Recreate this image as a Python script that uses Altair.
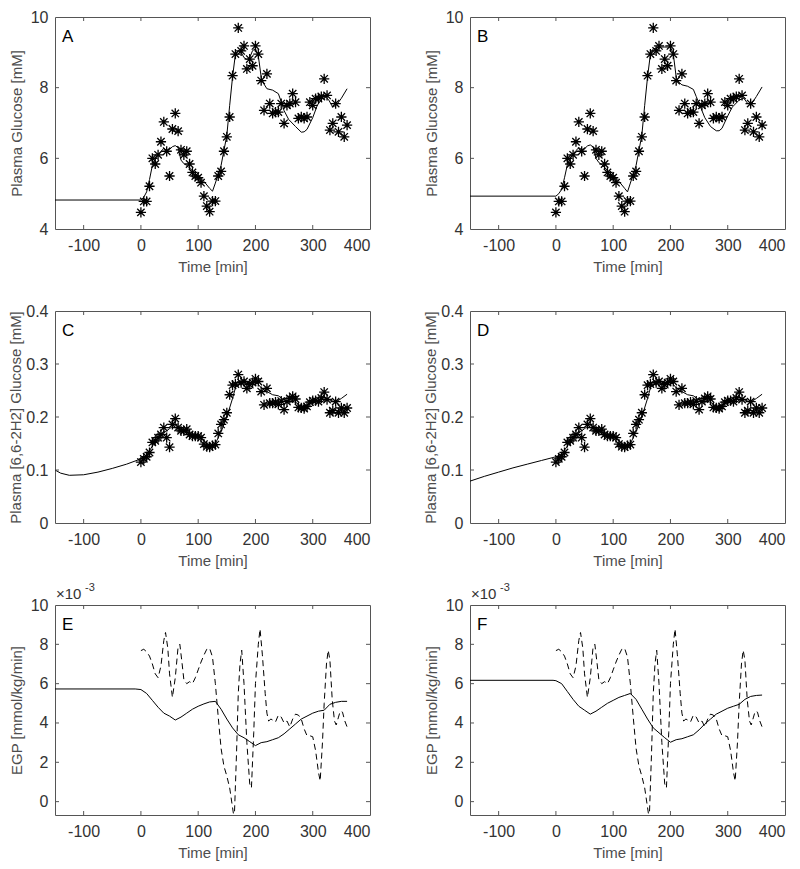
import altair as alt
import pandas as pd

FONT = "Liberation Sans"

# ---------------- data ----------------
X_DOMAIN = [-150, 400]
X_TICKS = [-100, 0, 100, 200, 300, 400]

OBS_T = [0, 5, 10, 15, 20, 25, 30, 35, 40, 45, 50, 55, 60, 65, 70, 75, 80, 85, 90, 95,
         100, 105, 110, 115, 120, 125, 130, 135, 140, 145, 150, 155, 160, 165, 170, 175,
         180, 185, 190, 195, 200, 205, 210, 215, 220, 225, 230, 235, 240, 245, 250, 255,
         260, 265, 270, 275, 280, 285, 290, 295, 300, 305, 310, 315, 320, 325, 330, 335,
         340, 345, 350, 355, 360]

GLU_OBS = [4.47, 4.78, 4.78, 5.21, 6.0, 5.84, 6.1, 6.47, 7.03, 6.2, 5.5, 6.83, 7.27, 6.77,
           6.24, 6.1, 6.2, 5.84, 5.6, 5.5, 5.45, 5.31, 4.93, 4.65, 4.49, 4.79, 4.79, 5.5,
           5.63, 6.2, 6.61, 7.17, 8.34, 8.95, 9.69, 9.04, 9.18, 8.53, 8.81, 8.62, 9.18,
           8.95, 8.2, 7.36, 8.39, 7.55, 7.27, 7.31, 7.31, 7.55, 6.99, 7.5, 7.55, 7.83,
           7.59, 7.13, 7.17, 7.13, 7.17, 7.59, 7.5, 7.69, 7.69, 7.75, 8.25, 7.78, 6.8,
           6.99, 7.55, 6.75, 7.17, 6.61, 6.94]

TRACER_OBS = [0.115, 0.121, 0.125, 0.133, 0.152, 0.155, 0.161, 0.167, 0.180, 0.161, 0.143,
              0.186, 0.197, 0.180, 0.174, 0.174, 0.177, 0.167, 0.164, 0.164, 0.164, 0.161,
              0.149, 0.144, 0.143, 0.146, 0.148, 0.169, 0.186, 0.195, 0.208, 0.242, 0.260,
              0.262, 0.280, 0.265, 0.267, 0.254, 0.261, 0.265, 0.272, 0.267, 0.248, 0.223,
              0.254, 0.226, 0.226, 0.228, 0.224, 0.230, 0.214, 0.229, 0.235, 0.239, 0.234,
              0.218, 0.217, 0.216, 0.220, 0.228, 0.231, 0.231, 0.229, 0.236, 0.247, 0.233,
              0.208, 0.212, 0.229, 0.208, 0.217, 0.208, 0.217]

GLU_A_T = [-150, 0, 5, 10, 15, 20, 25, 30, 35, 40, 45, 50, 55, 60, 65, 70, 75, 80, 90, 100,
           110, 120, 125, 130, 140, 150, 155, 160, 165, 170, 175, 180, 185, 190, 195, 200,
           205, 210, 215, 220, 230, 240, 245, 250, 258, 270, 280, 285, 290, 300, 308, 320,
           328, 335, 342, 350, 360]
GLU_A_V = [4.82, 4.82, 4.9, 5.05, 5.4, 5.8, 5.98, 6.1, 6.2, 6.28, 6.22, 6.25, 6.33, 6.36,
           6.3, 5.95, 5.85, 5.8, 5.65, 5.5, 5.35, 5.15, 5.07, 5.3, 5.8, 6.65, 7.5, 8.3, 8.95,
           9.05, 9.0, 8.85, 8.8, 8.85, 9.05, 9.1, 8.9, 8.3, 8.1, 7.97, 7.93, 7.83, 7.6, 7.35,
           7.1, 6.9, 6.74, 6.75, 6.82, 7.15, 7.5, 7.78, 7.65, 7.45, 7.52, 7.7, 7.97]

GLU_B_T = [-150, 0, 5, 10, 15, 20, 25, 30, 35, 40, 45, 50, 55, 60, 65, 70, 75, 80, 90, 100,
           110, 120, 125, 130, 140, 150, 155, 160, 165, 170, 175, 180, 190, 200, 205, 210,
           215, 220, 230, 240, 245, 250, 260, 270, 280, 285, 290, 300, 308, 320, 328, 335,
           342, 350, 360]
GLU_B_V = [4.93, 4.93, 5.0, 5.12, 5.45, 5.82, 6.0, 6.12, 6.22, 6.3, 6.25, 6.27, 6.35, 6.38,
           6.32, 6.0, 5.88, 5.82, 5.66, 5.5, 5.35, 5.15, 5.05, 5.3, 5.8, 6.65, 7.5, 8.3, 8.95,
           9.1, 9.12, 9.15, 9.15, 9.15, 8.95, 8.3, 8.15, 8.08, 8.04, 7.95, 7.75, 7.55, 7.15,
           6.9, 6.78, 6.78, 6.85, 7.2, 7.45, 7.65, 7.7, 7.55, 7.55, 7.75, 8.02]

TR_C_T = [-150, -140, -125, -100, -75, -50, -25, 0, 10, 20, 30, 40, 50, 60, 70, 80, 90, 100,
          110, 120, 125, 130, 140, 150, 160, 165, 170, 180, 190, 200, 210, 220, 230, 240,
          250, 260, 270, 280, 290, 300, 310, 320, 330, 340, 350, 360]
TR_C_V = [0.100, 0.094, 0.090, 0.091, 0.096, 0.103, 0.111, 0.121, 0.128, 0.145, 0.158, 0.170,
          0.178, 0.186, 0.178, 0.172, 0.167, 0.163, 0.155, 0.146, 0.145, 0.150, 0.172, 0.200,
          0.235, 0.255, 0.262, 0.265, 0.262, 0.268, 0.255, 0.248, 0.242, 0.240, 0.232, 0.230,
          0.228, 0.220, 0.222, 0.228, 0.232, 0.237, 0.232, 0.228, 0.235, 0.243]

TR_D_T = [-150, -125, -100, -75, -50, -25, 0, 10, 20, 30, 40, 50, 60, 70, 80, 90, 100, 110,
          120, 125, 130, 140, 150, 160, 165, 170, 180, 190, 200, 210, 220, 230, 240, 250,
          260, 270, 280, 290, 300, 310, 320, 330, 340, 350, 360]
TR_D_V = [0.079, 0.088, 0.096, 0.104, 0.111, 0.118, 0.125, 0.130, 0.145, 0.158, 0.170, 0.178,
          0.186, 0.178, 0.172, 0.167, 0.163, 0.155, 0.146, 0.145, 0.150, 0.172, 0.200, 0.235,
          0.255, 0.262, 0.265, 0.262, 0.268, 0.255, 0.248, 0.242, 0.240, 0.232, 0.230, 0.228,
          0.220, 0.222, 0.228, 0.232, 0.237, 0.232, 0.228, 0.235, 0.243]

EGP_E_T = [-150, -10, 0, 10, 20, 30, 40, 50, 60, 70, 80, 90, 100, 110, 120, 130, 140, 150,
           160, 170, 180, 190, 200, 210, 220, 230, 240, 250, 260, 270, 280, 290, 300, 310,
           320, 330, 340, 350, 360]
EGP_E_V = [5.73, 5.73, 5.7, 5.5, 5.15, 4.8, 4.5, 4.35, 4.15, 4.3, 4.5, 4.7, 4.85, 4.97, 5.07,
           5.1, 4.7, 4.2, 3.75, 3.4, 3.25, 3.05, 2.85, 3.0, 3.05, 3.15, 3.25, 3.45, 3.7, 3.95,
           4.2, 4.35, 4.5, 4.6, 4.65, 4.95, 5.05, 5.1, 5.1]

EGP_F_T = [-150, -5, 0, 10, 20, 30, 40, 50, 60, 70, 80, 90, 100, 110, 120, 130, 140, 150,
           160, 170, 180, 190, 200, 210, 220, 230, 240, 250, 260, 270, 280, 290, 300, 310,
           320, 330, 340, 350, 360]
EGP_F_V = [6.17, 6.17, 6.15, 6.0, 5.6, 5.2, 4.85, 4.65, 4.45, 4.6, 4.8, 5.0, 5.15, 5.3, 5.4,
           5.5, 5.2, 4.7, 4.2, 3.75, 3.5, 3.25, 3.02, 3.15, 3.2, 3.3, 3.4, 3.65, 3.95, 4.2,
           4.45, 4.6, 4.75, 4.85, 4.95, 5.2, 5.35, 5.4, 5.42]

EGP_DASH_T = [0, 5, 10, 15, 20, 25, 30, 35, 40, 43, 47, 50, 55, 60, 65, 68, 72, 75, 80, 85,
              90, 95, 100, 105, 110, 115, 120, 125, 130, 135, 140, 145, 150, 155, 160, 163,
              167, 170, 173, 176, 180, 185, 190, 193, 197, 200, 205, 208, 212, 217, 220, 223,
              227, 230, 235, 240, 245, 250, 255, 260, 265, 270, 275, 280, 285, 290, 295, 300,
              305, 310, 313, 317, 320, 324, 327, 330, 334, 338, 341, 345, 348, 352, 356, 360]
EGP_DASH_V = [7.68, 7.75, 7.62, 7.4, 7.0, 6.5, 6.3, 6.9, 8.2, 8.6, 7.8, 6.5, 5.3, 6.3, 7.9,
              8.0, 7.0, 6.2, 6.0, 6.1, 6.0, 6.3, 6.7, 7.1, 7.45, 7.75, 7.8, 7.35, 6.0, 4.3,
              2.7, 1.8, 1.3, 0.7, -0.3, -0.9, 2.5, 5.5, 7.0, 7.7, 6.0, 3.0, 0.9, 0.7, 3.5,
              6.0, 8.0, 8.78, 7.5, 5.5, 4.5, 4.1, 4.2, 4.15, 4.05, 4.4, 4.3, 4.0, 4.1, 3.8,
              4.2, 4.45, 4.4, 4.2, 3.7, 3.35, 3.35, 3.3, 2.6, 1.5, 1.05, 3.0, 5.0, 7.0, 7.7,
              7.2, 5.2, 4.1, 3.9, 4.3, 4.6, 4.55, 4.1, 3.8]

GLU_TICKS = [4, 6, 8, 10]
TR_TICKS = [0, 0.1, 0.2, 0.3, 0.4]
EGP_TICKS = [0, 2, 4, 6, 8, 10]

STAR = "M0,-1L0,1M-1,0L1,0M-0.72,-0.72L0.72,0.72M-0.72,0.72L0.72,-0.72"
FRAME = "#555555"
W = 315


def panel(letter, ytitle, ydom, yticks, line_t, line_v, height, tpad,
          obs_t=None, obs_v=None, dash_t=None, dash_v=None, sci=False):
    xs = alt.Scale(domain=X_DOMAIN, nice=False, zero=False)
    ys = alt.Scale(domain=ydom, nice=False, zero=False)
    xax = alt.Axis(values=X_TICKS, title="Time [min]", labelExpr="'' + datum.value",
                   labelPadding=8, titlePadding=6)
    yax = alt.Axis(values=yticks, title=ytitle, labelExpr="'' + datum.value",
                   labelPadding=7, titlePadding=tpad)

    def X(field):
        return alt.X(field, scale=xs, axis=xax, title="Time [min]")

    def Y(field):
        return alt.Y(field, scale=ys, axis=yax, title=ytitle)

    model = pd.DataFrame({"t": line_t, "v": line_v})
    layers = [
        alt.Chart(model).mark_line(color="black", strokeWidth=1, clip=True).encode(
            x=X("t:Q"), y=Y("v:Q"))
    ]
    if dash_t is not None:
        dd = pd.DataFrame({"t": dash_t, "v": dash_v})
        layers.append(
            alt.Chart(dd).mark_line(color="black", strokeWidth=1, strokeDash=[6, 4],
                                    clip=True).encode(x=X("t:Q"), y=Y("v:Q"))
        )
    if obs_t is not None:
        od = pd.DataFrame({"t": obs_t, "v": obs_v})
        layers.append(
            alt.Chart(od).mark_point(shape=STAR, size=105, filled=False, stroke="black",
                                     strokeWidth=1.3, opacity=1).encode(
                x=X("t:Q"), y=Y("v:Q"))
        )
    # inward ticks on all four sides
    xt = pd.DataFrame({"t": [v for v in X_TICKS if X_DOMAIN[0] < v < X_DOMAIN[1]]})
    yt = pd.DataFrame({"v": [v for v in yticks if ydom[0] < v < ydom[1]]})
    for yd in ydom:
        layers.append(
            alt.Chart(xt).mark_tick(orient="vertical", size=8, thickness=1, color=FRAME,
                                    clip=True, opacity=1).encode(
                x=X("t:Q"),
                y=alt.YDatum(datum=yd, type="quantitative", scale=ys, axis=yax, title=ytitle),
            )
        )
    for xd in X_DOMAIN:
        layers.append(
            alt.Chart(yt).mark_tick(orient="horizontal", size=8, thickness=1, color=FRAME,
                                    clip=True, opacity=1).encode(
                y=Y("v:Q"),
                x=alt.XDatum(datum=xd, type="quantitative", scale=xs, axis=xax,
                             title="Time [min]"),
            )
        )
    layers.append(
        alt.Chart(pd.DataFrame({"s": [letter]})).mark_text(
            align="left", baseline="alphabetic", fontSize=17, font=FONT, color="black"
        ).encode(text="s:N", x=alt.value(7), y=alt.value(25))
    )
    if sci:
        layers.append(
            alt.Chart(pd.DataFrame({"s": ["\u00d710"]})).mark_text(
                align="left", baseline="alphabetic", fontSize=15, font=FONT, color="#333333"
            ).encode(text="s:N", x=alt.value(1), y=alt.value(-6))
        )
        layers.append(
            alt.Chart(pd.DataFrame({"s": ["-3"]})).mark_text(
                align="left", baseline="alphabetic", fontSize=11, font=FONT, color="#333333"
            ).encode(text="s:N", x=alt.value(30), y=alt.value(-14))
        )
    return alt.layer(*layers).properties(width=W, height=height)


pA = panel("A", "Plasma Glucose [mM]", [4, 10], GLU_TICKS, GLU_A_T, GLU_A_V, 212, 6,
           obs_t=OBS_T, obs_v=GLU_OBS)
pB = panel("B", "Plasma Glucose [mM]", [4, 10], GLU_TICKS, GLU_B_T, GLU_B_V, 212, 6,
           obs_t=OBS_T, obs_v=GLU_OBS)
pC = panel("C", "Plasma [6,6-2H2] Glucose [mM]", [0, 0.4], TR_TICKS, TR_C_T, TR_C_V, 212, 2,
           obs_t=OBS_T, obs_v=TRACER_OBS)
pD = panel("D", "Plasma [6,6-2H2] Glucose [mM]", [0, 0.4], TR_TICKS, TR_D_T, TR_D_V, 212, 2,
           obs_t=OBS_T, obs_v=TRACER_OBS)
pE = panel("E", "EGP [mmol/kg/min]", [-0.68, 10], EGP_TICKS, EGP_E_T, EGP_E_V, 210, 6,
           dash_t=EGP_DASH_T, dash_v=EGP_DASH_V, sci=True)
pF = panel("F", "EGP [mmol/kg/min]", [-0.68, 10], EGP_TICKS, EGP_F_T, EGP_F_V, 210, 6,
           dash_t=EGP_DASH_T, dash_v=EGP_DASH_V, sci=True)

chart = alt.concat(
    pA, pB, pC, pD, pE, pF, columns=2,
    spacing={"row": 82, "column": 100}, bounds="flush",
).properties(
    padding={"left": 0, "top": 0, "right": 2, "bottom": 2}
).configure_view(
    stroke=FRAME, strokeWidth=1
).configure_axis(
    domain=False, ticks=False, tickSize=0, grid=False,
    labelFont=FONT, labelFontSize=16, labelColor="#333333",
    titleFont=FONT, titleFontSize=15, titleColor="#4d4d4d", titleFontWeight="normal",
)

chart.save("out.html", embed_options={"renderer": "svg", "actions": False})
